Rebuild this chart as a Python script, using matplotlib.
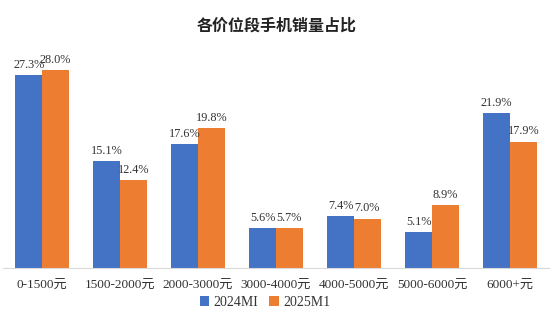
import matplotlib.pyplot as plt
import numpy as np

plt.rcParams['font.family'] = ['Liberation Serif', 'Noto Sans CJK SC']

categories = ['0-1500元', '1500-2000元', '2000-3000元', '3000-4000元',
              '4000-5000元', '5000-6000元', '6000+元']
series_names = ['2024MI', '2025M1']
v2024 = [27.3, 15.1, 17.6, 5.6, 7.4, 5.1, 21.9]
v2025 = [28.0, 12.4, 19.8, 5.7, 7.0, 8.9, 17.9]
colors = ['#4472C4', '#ED7D31']

fig = plt.figure(figsize=(5.54, 3.22), dpi=100)
ax = fig.add_axes([3 / 554, 54 / 322, 546 / 554, 228 / 322])

x = np.arange(len(categories))
w = 0.34
for i, (vals, name) in enumerate(zip([v2024, v2025], series_names)):
    pos = x + (i - 0.5) * w
    ax.bar(pos, vals, width=w, color=colors[i], label=name)
    for p, v in zip(pos, vals):
        ax.text(p, v + 0.6, f'{v:.1f}%', ha='center', va='bottom',
                fontsize=8.8, color='#333333')

ax.set_xlim(-0.5, len(categories) - 0.5)
ax.set_ylim(0, 32.3)
ax.set_yticks([])
ax.set_xticks(x)
ax.set_xticklabels(categories, fontsize=9.5, color='#333333')
ax.tick_params(axis='x', length=0, pad=8)
for s in ['top', 'right', 'left']:
    ax.spines[s].set_visible(False)
ax.spines['bottom'].set_color('#d9d9d9')

fig.text(0.5, 1 - 27 / 322, '各价位段手机销量占比', ha='center', va='center',
         fontsize=11.5, fontweight='bold', color='#222222')

fig.legend(loc='center', bbox_to_anchor=(265 / 554, 1 - 302 / 322), ncol=2,
           frameon=False, fontsize=10, handlelength=0.7, handleheight=0.7,
           columnspacing=0.8, handletextpad=0.3, labelcolor='#333333')

fig.savefig('out.png', dpi=100)
